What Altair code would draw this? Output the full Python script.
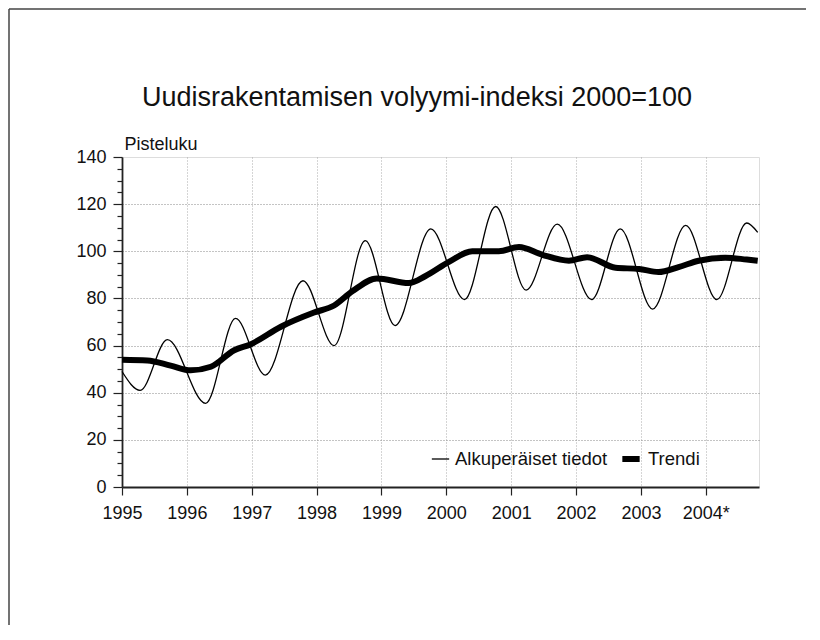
import altair as alt
import pandas as pd

# Original series (peaks/troughs), decimal years
orig_t = [1995.00, 1995.28, 1995.70, 1996.29, 1996.75, 1997.21, 1997.79, 1998.27,
          1998.75, 1999.21, 1999.76, 2000.28, 2000.76, 2001.23, 2001.71, 2002.24,
          2002.68, 2003.18, 2003.69, 2004.17, 2004.63, 2004.80]
orig_v = [49, 41, 62.5, 35.5, 71.5, 47.5, 87.5, 60, 104.5, 68.5, 109.5, 79.5,
          119, 83.5, 111.5, 79.5, 109.5, 75.5, 111, 79.5, 112, 108]

# Trend series
trend_t = [1995.00, 1995.39, 1995.75, 1996.06, 1996.37, 1996.73, 1996.98, 1997.45,
           1997.96, 1998.27, 1998.55, 1998.93, 1999.42, 1999.68, 2000.04, 2000.40,
           2000.81, 2001.12, 2001.48, 2001.89, 2002.17, 2002.61, 2002.97, 2003.27,
           2003.58, 2003.89, 2004.30, 2004.63, 2004.80]
trend_v = [54, 53.7, 51.5, 49.5, 51, 58, 60.5, 68, 74, 77, 83, 88.5, 86.5, 89.5,
           95.5, 100, 100, 101.8, 98.5, 96, 97.5, 93, 92.5, 91.2, 93.3, 96, 97.3,
           96.5, 96]

series_names = ["Alkuperäiset tiedot", "Trendi"]
year_ticks = list(range(1995, 2005))
y_ticks = list(range(0, 141, 5))

df = pd.concat([
    pd.DataFrame({"t": orig_t, "v": orig_v, "s": series_names[0], "o": 0}),
    pd.DataFrame({"t": trend_t, "v": trend_v, "s": series_names[1], "o": 1}),
])

FONT = "Liberation Sans"

x_axis = alt.Axis(
    values=year_ticks, labelExpr="datum.value === 2004 ? '2004*' : '' + datum.value",
    labelFlush=False, labelFontSize=18, labelFont=FONT, labelColor="#111",
    tickSize=8, tickColor="#222", tickWidth=1.2, labelPadding=9,
    domainColor="#222", domainWidth=1.8,
    grid=True, gridColor="#aaa", gridDash=[1, 2], gridWidth=1,
    title=None,
)
y_axis = alt.Axis(
    values=y_ticks,
    labelExpr="datum.value % 20 === 0 ? datum.label : ''",
    labelOverlap=False, labelFontSize=18, labelFont=FONT, labelColor="#111",
    labelPadding=7,
    tickSize={"condition": {"test": "datum.value % 20 === 0", "value": 9}, "value": 5},
    tickColor="#222", tickWidth=1.2,
    domainColor="#222", domainWidth=1.8,
    grid=True, gridColor="#888", gridDash=[1, 2], gridWidth=1,
    gridOpacity={"condition": {"test": "datum.value % 20 === 0 && datum.value > 0 && datum.value < 140", "value": 1}, "value": 0},
    title="Pisteluku", titleAngle=0, titleAlign="left", titleBaseline="alphabetic",
    titleX=2, titleY=-8, titleFontSize=18, titleFont=FONT, titleFontWeight="normal",
    titleColor="#111",
)

lines = alt.Chart(df).mark_line(interpolate="monotone", color="black").encode(
    x=alt.X("t:Q", scale=alt.Scale(domain=[1995, 2004.82], nice=False, zero=False), axis=x_axis),
    y=alt.Y("v:Q", scale=alt.Scale(domain=[0, 140], nice=False), axis=y_axis),
    strokeWidth=alt.StrokeWidth(
        "s:N",
        scale=alt.Scale(domain=series_names, range=[1.3, 6]),
        legend=alt.Legend(
            title=None, orient="none", direction="horizontal",
            legendX=309, legendY=290, padding=0,
            labelFontSize=18.5, labelFont=FONT, labelColor="#111",
            symbolType="stroke", symbolSize=300, symbolStrokeColor="black",
            labelOffset=5, columnPadding=2,
        ),
    ),
    order=alt.Order("o:Q"),
    detail="s:N",
)

frame_data = alt.Data(values=[{}])
top_rule = alt.Chart(frame_data).mark_rule(color="#444", strokeWidth=1.5).encode(
    x=alt.value(-113), x2=alt.value(684), y=alt.value(-148)
)
left_rule = alt.Chart(frame_data).mark_rule(color="#444", strokeWidth=1.5).encode(
    x=alt.value(-113), y=alt.value(-148), y2=alt.value(468)
)

chart = alt.layer(lines, top_rule, left_rule).properties(
    width=637, height=330,
    padding=0,
    title=alt.TitleParams(
        "Uudisrakentamisen volyymi-indeksi 2000=100",
        anchor="start", frame="group", dx=20, offset=-104,
        fontSize=27, font=FONT, fontWeight="normal", color="#111",
    ),
).configure_view(stroke="#222", strokeWidth=1.8).configure(background="white")

chart.save("out.html", embed_options={"renderer": "svg", "actions": False})
